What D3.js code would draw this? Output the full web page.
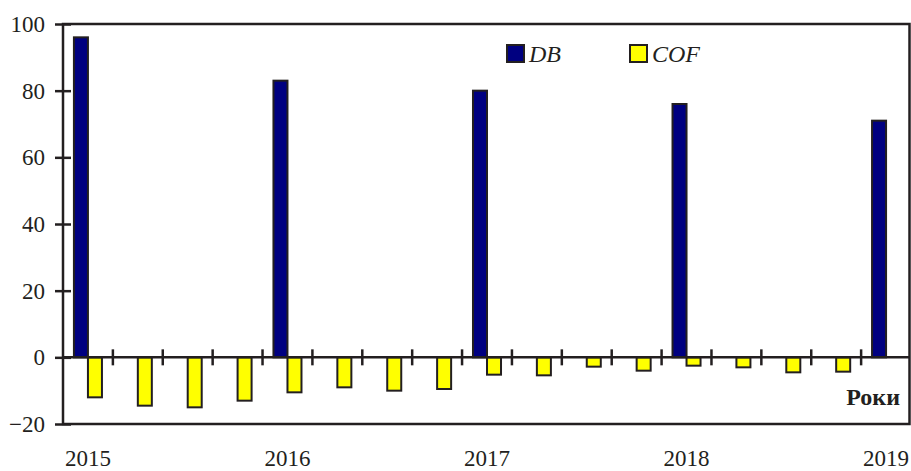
<!DOCTYPE html>
<html>
<head>
<meta charset="utf-8">
<script src="https://cdn.jsdelivr.net/npm/d3@7"></script>
<style>
  html, body { margin: 0; padding: 0; background: #fff; }
  svg { display: block; }
  svg text { font-family: 'Times New Roman', 'Liberation Serif', Times, serif; fill: #231f20; }
</style>
</head>
<body>
<div id="chart"></div>
<script>
const periods = [
  '2015 I', '2015 II', '2015 III', '2015 IV',
  '2016 I', '2016 II', '2016 III', '2016 IV',
  '2017 I', '2017 II', '2017 III', '2017 IV',
  '2018 I', '2018 II', '2018 III', '2018 IV',
  '2019 I'
];
const dbValues = [96, null, null, null, 83, null, null, null, 80, null, null, null, 76, null, null, null, 71];
const cofValues = [-12, -14.5, -15, -13, -10.5, -9, -10, -9.5, -5.2, -5.4, -2.8, -4, -2.5, -3, -4.5, -4.3, null];
const yearTicks = ['2015 I', '2016 I', '2017 I', '2018 I', '2019 I'];
const yTicks = [-20, 0, 20, 40, 60, 80, 100];
const seriesNames = ['DB', 'COF'];
const seriesColors = ['#000080', '#ffff00'];

const width = 911;
const height = 471;
const ink = '#231f20';
const serif = "'Times New Roman', 'Liberation Serif', Times, serif";

const margin = { top: 24, right: 1.5, bottom: 47, left: 63 };
const plotW = width - margin.left - margin.right;
const plotH = height - margin.top - margin.bottom;

const svg = d3.select('#chart')
  .append('svg')
  .attr('width', width)
  .attr('height', height);

const g = svg.append('g')
  .attr('transform', `translate(${margin.left},${margin.top})`);

const x0 = d3.scaleBand()
  .domain(periods)
  .range([0, plotW + 1.5]);

const x1 = d3.scaleBand()
  .domain(seriesNames)
  .range([0, x0.bandwidth()])
  .paddingOuter(0.78);

const y = d3.scaleLinear()
  .domain([-20, 100])
  .range([plotH, 0]);

const color = d3.scaleOrdinal()
  .domain(seriesNames)
  .range(seriesColors);

const rows = periods.map((p, i) => ({
  period: p,
  values: [
    { key: 'DB', value: dbValues[i] },
    { key: 'COF', value: cofValues[i] }
  ].filter(d => d.value !== null)
}));

// bars
g.append('g')
  .selectAll('g')
  .data(rows)
  .join('g')
  .attr('transform', d => `translate(${x0(d.period)},0)`)
  .selectAll('rect')
  .data(d => d.values)
  .join('rect')
  .attr('x', d => x1(d.key))
  .attr('y', d => y(Math.max(0, d.value)))
  .attr('width', x1.bandwidth())
  .attr('height', d => Math.abs(y(d.value) - y(0)))
  .attr('fill', d => color(d.key))
  .attr('stroke', ink)
  .attr('stroke-width', 2);

// zero line with period separators
g.append('line')
  .attr('x1', 0)
  .attr('x2', plotW)
  .attr('y1', y(0))
  .attr('y2', y(0))
  .attr('stroke', ink)
  .attr('stroke-width', 2.5);

g.append('g')
  .selectAll('line')
  .data(periods.slice(1))
  .join('line')
  .attr('x1', d => x0(d))
  .attr('x2', d => x0(d))
  .attr('y1', y(0) - 8)
  .attr('y2', y(0) + 8)
  .attr('stroke', ink)
  .attr('stroke-width', 2.5);

// frame
g.append('rect')
  .attr('x', 0)
  .attr('y', 0)
  .attr('width', plotW)
  .attr('height', plotH)
  .attr('fill', 'none')
  .attr('stroke', ink)
  .attr('stroke-width', 2.5);

// y axis
const yAxis = g.append('g')
  .call(d3.axisLeft(y)
    .tickValues(yTicks)
    .tickSize(8)
    .tickPadding(10)
    .tickFormat(d3.format('d')));

yAxis.attr('font-family', serif);
yAxis.select('.domain').remove();
yAxis.selectAll('.tick line')
  .attr('x1', 8)
  .attr('stroke', ink)
  .attr('stroke-width', 2.5);
yAxis.selectAll('.tick text')
  .attr('font-size', 23)
  .attr('fill', ink);

// year labels
const xAxis = g.append('g')
  .attr('transform', `translate(0,${plotH})`)
  .call(d3.axisBottom(x0)
    .tickValues(yearTicks)
    .tickSize(0)
    .tickPadding(26)
    .tickFormat(d => d.split(' ')[0]));

xAxis.attr('font-family', serif);
xAxis.select('.domain').remove();
xAxis.selectAll('.tick text')
  .attr('font-size', 23)
  .attr('fill', ink);

// axis title
g.append('text')
  .attr('x', 900 - margin.left)
  .attr('y', 405 - margin.top)
  .attr('text-anchor', 'end')
  .attr('font-size', 24)
  .attr('font-weight', 'bold')
  .text('Роки');

// legend
const legendX = d3.scaleOrdinal()
  .domain(seriesNames)
  .range([507, 630]);

const legend = svg.append('g')
  .attr('class', 'legend')
  .selectAll('g')
  .data(seriesNames)
  .join('g')
  .attr('transform', d => `translate(${legendX(d)},45)`);

legend.append('rect')
  .attr('width', 17)
  .attr('height', 17)
  .attr('fill', d => color(d))
  .attr('stroke', ink)
  .attr('stroke-width', 2);

legend.append('text')
  .attr('x', 22)
  .attr('y', 17)
  .attr('font-size', 24)
  .attr('font-style', 'italic')
  .text(d => d);
</script>
</body>
</html>
